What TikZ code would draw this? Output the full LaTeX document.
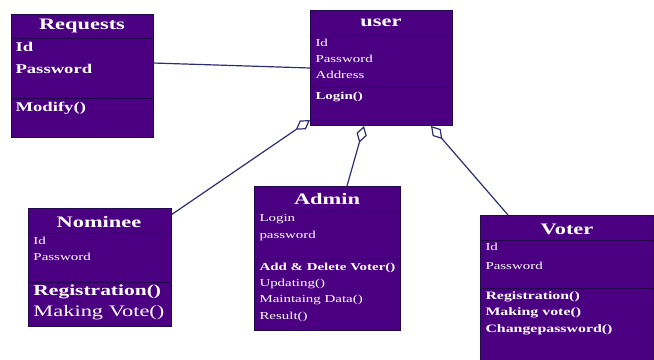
\documentclass[tikz,border=0pt]{standalone}
\usepackage{fontspec}
\setmainfont{Liberation Serif}[FakeStretch=1.4]
\usetikzlibrary{arrows.meta}

\definecolor{boxfill}{RGB}{75,0,130}
\definecolor{boxline}{RGB}{35,10,80}
\definecolor{connline}{RGB}{45,45,115}

\tikzset{every picture/.style={line width=0.75pt}}
\tikzset{
  classbox/.style={draw=boxline, fill=boxfill, anchor=north west, inner sep=0pt, line width=0.6pt},
  sepline/.style={draw=boxline, line width=0.6pt},
  conn/.style={draw=connline, line width=0.9pt},
  aggr/.style={conn, -{Diamond[open, fill=white, length=13pt, width=8pt, line width=0.9pt]}},
  title/.style={anchor=center, inner sep=0.75pt, text=white, font=\bfseries\fontsize{12}{14}\selectfont},
  attr/.style={anchor=west, inner sep=0.75pt, text=white, font=\fontsize{8}{9}\selectfont},
  oper/.style={attr, font=\bfseries\fontsize{8}{9}\selectfont}
}

\begin{document}
\begin{tikzpicture}[x=0.75pt,y=0.75pt,yscale=-1,xscale=1]
\useasboundingbox (0,0) rectangle (654,360);

%Class boxes
\node [classbox, minimum width=106.5pt, minimum height=92.25pt] (req) at (11,14) {};
\node [classbox, minimum width=106.5pt, minimum height=86.25pt] (usr) at (310,10) {};
\node [classbox, minimum width=107.25pt, minimum height=88.5pt] (nom) at (28,208) {};
\node [classbox, minimum width=109.5pt, minimum height=108pt] (adm) at (254,186) {};
\node [classbox, minimum width=130pt, minimum height=111pt] (vot) at (480,215) {};

%Separators
\draw [sepline] (11,38) -- (153,38) ;
\draw [sepline] (11,98) -- (153,98) ;
\draw [sepline] (310,35) -- (452,35) ;
\draw [sepline] (310,87) -- (452,87) ;
\draw [sepline] (28,233) -- (171,233) ;
\draw [sepline] (28,282) -- (171,282) ;
\draw [sepline] (254,211) -- (400,211) ;
\draw [sepline] (254,259) -- (400,259) ;
\draw [sepline] (480,240) -- (653,240) ;
\draw [sepline] (480,288) -- (653,288) ;

%Connector ends
\coordinate (reqR) at (153,63) ;
\coordinate (usrL) at (310,68) ;
\coordinate (usrA) at (310,120) ;
\coordinate (usrB) at (364,126) ;
\coordinate (usrC) at (431,126) ;
\coordinate (nomT) at (171,215) ;
\coordinate (admT) at (347,186) ;
\coordinate (votT) at (508,215) ;

%Connectors
\draw [conn] (reqR) -- (usrL) ;
\draw [aggr] (nomT) -- (usrA) ;
\draw [aggr] (admT) -- (usrB) ;
\draw [aggr] (votT) -- (usrC) ;

% Requests
\node [title] (reqT) at (82,26) {Requests};
\node [attr, font=\bfseries\fontsize{10}{12}\selectfont] (req1) at (14,47) {Id};
\node [attr, font=\bfseries\fontsize{10}{12}\selectfont] (req2) at (14,69) {Password};
\node [attr, font=\bfseries\fontsize{10}{12}\selectfont] (req3) at (14,108) {Modify()};
% user
\node [title] (usrT) at (381,23) {user};
\node [attr] (usr1) at (314,43) {Id};
\node [attr] (usr2) at (314,59) {Password};
\node [attr] (usr3) at (314,75) {Address};
\node [oper] (usr4) at (314,97) {Login()};
% Nominee
\node [title] (nomN) at (99,222) {Nominee};
\node [attr] (nom1) at (32,241) {Id};
\node [attr] (nom2) at (32,257) {Password};
\node [oper, font=\bfseries\fontsize{11.5}{13}\selectfont] (nom3) at (32,292) {Registration()};
\node [attr, font=\fontsize{12}{14}\selectfont] (nom4) at (32,313) {Making Vote()};
% Admin
\node [title] (admN) at (327,199) {Admin};
\node [attr] (adm1) at (258,219) {Login};
\node [attr] (adm2) at (258,236) {password};
\node [oper] (adm3) at (258,268) {Add \& Delete Voter()};
\node [attr] (adm4) at (258,284) {Updating()};
\node [attr] (adm5) at (258,300) {Maintaing Data()};
\node [attr] (adm6) at (258,317) {Result()};
% Voter
\node [title] (votN) at (567,229) {Voter};
\node [attr] (vot1) at (484,247) {Id};
\node [attr] (vot2) at (484,266) {Password};
\node [oper, font=\bfseries\fontsize{8.5}{10}\selectfont] (vot3) at (484,297) {Registration()};
\node [oper, font=\bfseries\fontsize{8.5}{10}\selectfont] (vot4) at (484,313) {Making vote()};
\node [oper, font=\bfseries\fontsize{8.5}{10}\selectfont] (vot5) at (484,330) {Changepassword()};

\end{tikzpicture}
\end{document}
